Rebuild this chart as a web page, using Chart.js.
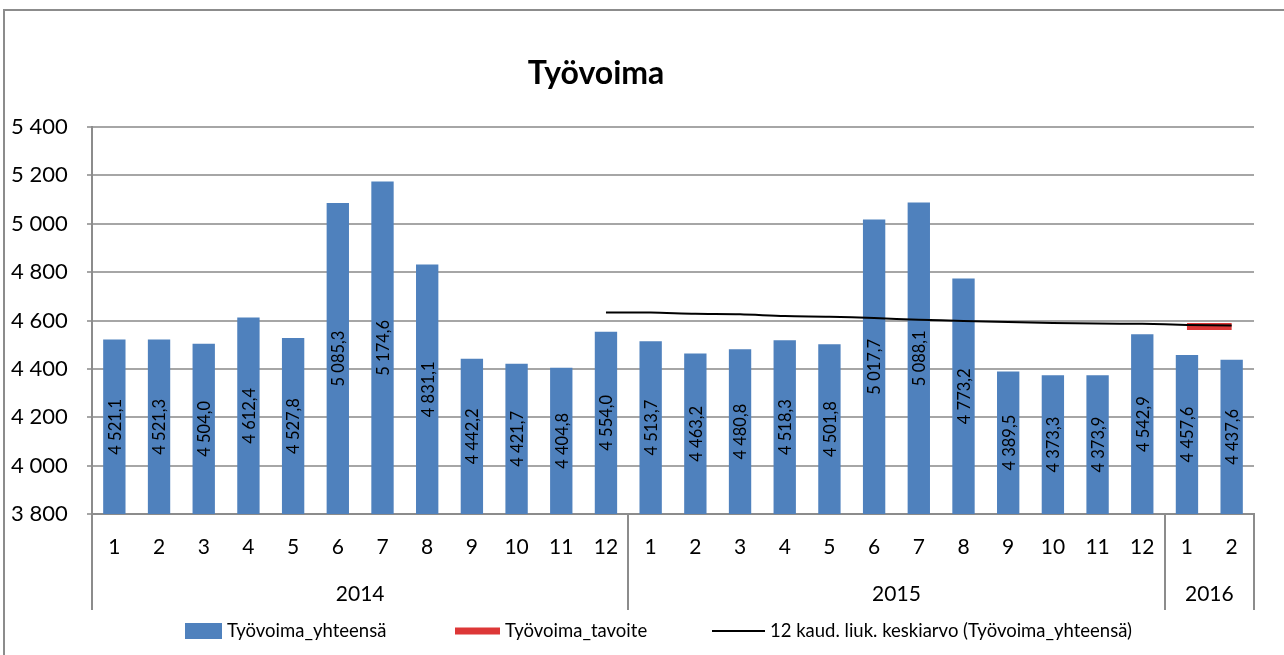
<!DOCTYPE html>
<html lang="fi">
	<head>
		<meta charset="UTF-8" />
		<title>Työvoima</title>
		<script src="https://cdn.jsdelivr.net/npm/chart.js@4.4.3/dist/chart.umd.min.js"></script>
		<style>
			body {
				margin: 0;
				background: #fff;
			}
			.frame {
				position: absolute;
				left: 3px;
				top: 9px;
				width: 1300px;
				height: 700px;
				border: 2px solid #8c8c8c;
			}
			.container {
				position: absolute;
				left: 0;
				top: 0;
				width: 1284px;
				height: 655px;
			}
		</style>
	</head>
	<body>
		<div class="frame"></div>
		<div class="container">
			<canvas id="tyovoimaChart"></canvas>
		</div>

		<script>
			// data
			const months = ["1", "2", "3", "4", "5", "6", "7", "8", "9", "10", "11", "12",
				"1", "2", "3", "4", "5", "6", "7", "8", "9", "10", "11", "12", "1", "2"];
			const years = [
				{ label: "2014", from: 0, to: 11 },
				{ label: "2015", from: 12, to: 23 },
				{ label: "2016", from: 24, to: 25 },
			];
			const tyovoimaYhteensa = [4521.1, 4521.3, 4504.0, 4612.4, 4527.8, 5085.3, 5174.6, 4831.1,
				4442.2, 4421.7, 4404.8, 4554.0, 4513.7, 4463.2, 4480.8, 4518.3, 4501.8, 5017.7, 5088.1,
				4773.2, 4389.5, 4373.3, 4373.9, 4542.9, 4457.6, 4437.6];
			const tyovoimaTavoite = [null, null, null, null, null, null, null, null, null, null, null, null,
				null, null, null, null, null, null, null, null, null, null, null, null, 4575, 4575];
			const liukuvaKeskiarvo = [null, null, null, null, null, null, null, null, null, null, null,
				4633.4, 4632.7, 4627.9, 4626.0, 4618.1, 4616.0, 4610.3, 4603.1, 4598.3, 4593.9, 4589.9,
				4587.3, 4586.4, 4581.7, 4579.6];
			const yTicks = [3800, 4000, 4200, 4400, 4600, 4800, 5000, 5200, 5400];
			const legendX = [185, 455, 712];

			const fontFamily = "Lato, 'Open Sans', sans-serif";

			function fiNumber(v, decimals) {
				const parts = v.toFixed(decimals).split(".");
				parts[0] = parts[0].replace(/\B(?=(\d{3})+(?!\d))/g, " ");
				return parts.join(",");
			}

			// title, bar value labels, year row and legend
			const extras = {
				id: "extras",
				afterDraw(chart) {
					const c = chart.ctx;
					const area = chart.chartArea;
					const x = chart.scales.x;
					const y = chart.scales.y;

					// title
					c.save();
					c.fillStyle = "#000";
					c.font = "bold 32px " + fontFamily;
					c.textAlign = "center";
					c.textBaseline = "middle";
					c.fillText("Työvoima", 596, 74);
					c.restore();

					// value labels, rotated, centred in each bar
					const basePx = y.getPixelForValue(y.min);
					tyovoimaYhteensa.forEach((v, i) => {
						const px = x.getPixelForValue(i);
						const py = (y.getPixelForValue(v) + basePx) / 2;
						c.save();
						c.fillStyle = "#000";
						c.font = "16.5px " + fontFamily;
						c.textAlign = "center";
						c.textBaseline = "middle";
						c.translate(px, py);
						c.rotate(-Math.PI / 2);
						c.fillText(fiNumber(v, 1), 0, 1);
						c.restore();
					});

					// second row of the x axis: years and separators
					const top = area.bottom;
					const bottom = top + 96;
					const half = (x.getPixelForValue(1) - x.getPixelForValue(0)) / 2;
					c.save();
					c.strokeStyle = "#8c8c8c";
					c.lineWidth = 2;
					const edges = [x.getPixelForValue(0) - half];
					years.forEach((yr) => edges.push(x.getPixelForValue(yr.to) + half));
					edges.forEach((ex) => {
						c.beginPath();
						c.moveTo(Math.round(ex), top);
						c.lineTo(Math.round(ex), bottom);
						c.stroke();
					});
					c.fillStyle = "#000";
					c.font = "21px " + fontFamily;
					c.textAlign = "center";
					c.textBaseline = "middle";
					years.forEach((yr) => {
						const cx = (x.getPixelForValue(yr.from) + x.getPixelForValue(yr.to)) / 2;
						c.fillText(yr.label, cx, top + 80);
					});
					c.restore();

					// legend
					const ly = 631;
					c.save();
					c.font = "18.5px " + fontFamily;
					c.textBaseline = "middle";
					c.textAlign = "left";
					chart.data.datasets.forEach((ds, i) => {
						let lx = legendX[i];
						if (ds.type === "bar") {
							c.fillStyle = ds.backgroundColor;
							c.fillRect(lx, ly - 8, 37, 16);
							lx += 37;
						} else {
							const w = ds.borderWidth > 3 ? 45 : 53;
							c.strokeStyle = ds.borderColor;
							c.lineWidth = ds.borderWidth;
							c.beginPath();
							c.moveTo(lx, ly);
							c.lineTo(lx + w, ly);
							c.stroke();
							lx += w;
						}
						c.fillStyle = "#000";
						c.fillText(ds.label, lx + 5, ly);
					});
					c.restore();
				},
			};

			const ctx = document.getElementById("tyovoimaChart").getContext("2d");
			const chart = new Chart(ctx, {
				type: "bar",
				data: {
					labels: months,
					datasets: [
						{
							type: "bar",
							label: "Työvoima_yhteensä",
							data: tyovoimaYhteensa,
							backgroundColor: "#4f81bd",
							categoryPercentage: 1,
							barPercentage: 0.5,
							order: 10,
						},
						{
							type: "line",
							label: "Työvoima_tavoite",
							data: tyovoimaTavoite,
							borderColor: "rgba(215, 20, 20, 0.85)",
							backgroundColor: "rgba(215, 20, 20, 0.85)",
							borderWidth: 7,
							pointRadius: 0,
							order: 1,
						},
						{
							type: "line",
							label: "12 kaud. liuk. keskiarvo (Työvoima_yhteensä)",
							data: liukuvaKeskiarvo,
							borderColor: "#000",
							backgroundColor: "#000",
							borderWidth: 2,
							pointRadius: 0,
							tension: 0.3,
							order: 0,
						},
					],
				},
				options: {
					responsive: true,
					maintainAspectRatio: false,
					animation: false,
					layout: {
						padding: { left: 11, right: 30, top: 127, bottom: 45 },
					},
					plugins: {
						title: { display: false },
						legend: { display: false },
						tooltip: { enabled: false },
					},
					scales: {
						x: {
							grid: { display: false, drawTicks: false },
							border: { display: true, color: "#8c8c8c", width: 2 },
							ticks: {
								color: "#000",
								font: { family: fontFamily, size: 21 },
								padding: 21,
								maxRotation: 0,
								autoSkip: false,
							},
							afterFit(scale) {
								scale.height = 96;
							},
						},
						y: {
							min: 3800,
							max: 5400,
							afterBuildTicks(scale) {
								scale.ticks = yTicks.map((v) => ({ value: v }));
							},
							grid: { color: "#a6a6a6", lineWidth: 2, tickLength: 5 },
							border: { display: true, color: "#8c8c8c", width: 2 },
							ticks: {
								color: "#000",
								font: { family: fontFamily, size: 22 },
								crossAlign: "far",
								callback: (v) => fiNumber(v, 0),
							},
							afterFit(scale) {
								scale.width = 81;
							},
						},
					},
				},
				plugins: [extras],
			});
		</script>
	</body>
</html>
